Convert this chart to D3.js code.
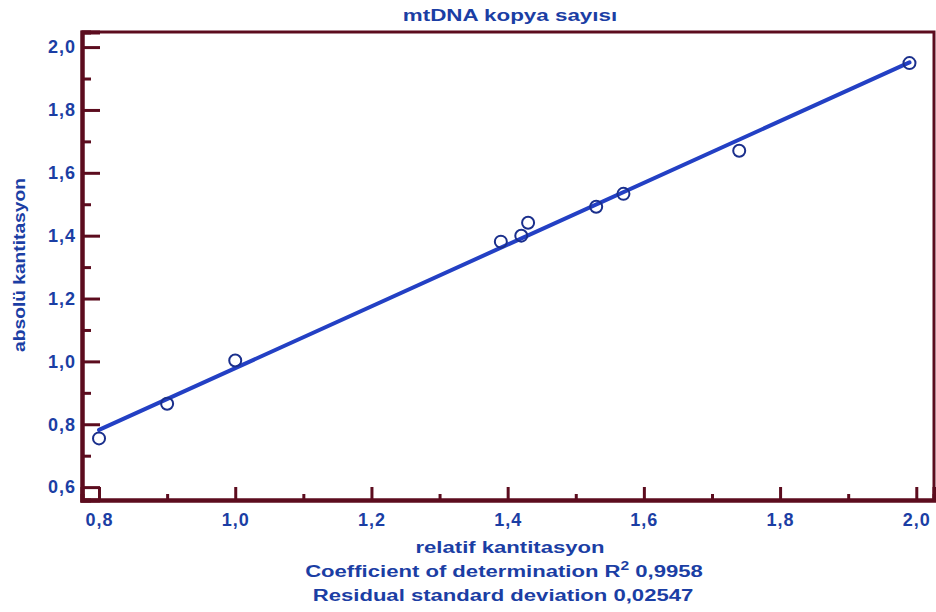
<!DOCTYPE html>
<html>
<head>
    <meta charset="utf-8">
    <title>mtDNA kopya sayısı</title>
    <script src="https://d3js.org/d3.v7.min.js"></script>
    <style>
        body { margin: 0; background: #fff; }
        text { font-family: "Liberation Sans", Arial, sans-serif; font-weight: bold; fill: #1b3ea4; }
    </style>
</head>
<body>
<div id="chart"></div>

<script type="text/javascript">
    // relatif kantitasyon (x) vs absolü kantitasyon (y)
    let relatif = [0.80, 0.90, 1.00, 1.39, 1.42, 1.43, 1.53, 1.57, 1.74, 1.99];
    let absolu  = [0.755, 0.865, 1.003, 1.381, 1.400, 1.441, 1.492, 1.533, 1.670, 1.949];

    let xMajor = [0.8, 1.0, 1.2, 1.4, 1.6, 1.8, 2.0];
    let xMinor = [0.9, 1.1, 1.3, 1.5, 1.7, 1.9];
    let yMajor = [0.6, 0.8, 1.0, 1.2, 1.4, 1.6, 1.8, 2.0];
    let yMinor = [0.7, 0.9, 1.1, 1.3, 1.5, 1.7, 1.9];

    let titleText = "mtDNA kopya sayısı";
    let xTitle = "relatif kantitasyon";
    let yTitle = "absolü kantitasyon";
    let r2Text = "0,9958";
    let sdText = "Residual standard deviation 0,02547";

    let dataset = relatif.map(function(d, i){ return {x: d, y: absolu[i]}; });

    let W = 936, H = 612;
    let margin = {top: 32, right: 2, bottom: 112, left: 82};
    let w = W - margin.left - margin.right;
    let h = H - margin.top - margin.bottom;

    let svg = d3.select("#chart")
        .append("svg")
            .attr("width", W)
            .attr("height", H);

    let g = svg.append("g")
        .attr("transform", "translate(" + margin.left + "," + margin.top + ")");

    let xScale = d3.scaleLinear().domain([0.775, 2.026]).range([0, w]);
    let yScale = d3.scaleLinear().domain([0.559, 2.048]).range([h, 0]);

    let fmt = function(d){ return d3.format(".1f")(d).replace(".", ","); };
    let axisColor = "#5c0c1e";

    // frame (top + right)
    g.append("path")
        .attr("d", "M0,0H" + w + "V" + h)
        .attr("fill", "none")
        .attr("stroke", axisColor)
        .attr("stroke-width", 3);

    // axes, ticks pointing inward
    let xAxis = d3.axisBottom(xScale).tickValues(xMajor).tickSize(-13).tickPadding(13).tickFormat(fmt);
    let xAxisMinor = d3.axisBottom(xScale).tickValues(xMinor).tickSize(-6).tickFormat("");
    let yAxis = d3.axisLeft(yScale).tickValues(yMajor).tickSize(-18).tickPadding(6).tickFormat(fmt);
    let yAxisMinor = d3.axisLeft(yScale).tickValues(yMinor).tickSize(-9).tickFormat("");

    [xAxis, xAxisMinor].forEach(function(a){
        g.append("g").attr("class", "axis").attr("transform", "translate(0," + h + ")").call(a);
    });
    [yAxis, yAxisMinor].forEach(function(a){
        g.append("g").attr("class", "axis").call(a);
    });

    g.selectAll(".axis .domain")
        .attr("stroke", axisColor)
        .attr("stroke-width", 4);
    g.selectAll(".axis .tick line")
        .attr("stroke", axisColor)
        .attr("stroke-width", 3);
    g.selectAll(".axis .tick text")
        .attr("font-size", "18px")
        .style("font-family", "Liberation Sans, Arial, sans-serif")
        .style("font-weight", "bold")
        .style("letter-spacing", "1px")
        .attr("fill", "#1b3ea4");

    // least squares regression line
    let mx = d3.mean(dataset, d => d.x), my = d3.mean(dataset, d => d.y);
    let b = d3.sum(dataset, d => (d.x - mx) * (d.y - my)) / d3.sum(dataset, d => (d.x - mx) * (d.x - mx));
    let a0 = my - b * mx;
    let xs = d3.extent(relatif);

    g.append("line")
        .attr("x1", xScale(xs[0]))
        .attr("y1", yScale(a0 + b * xs[0]))
        .attr("x2", xScale(xs[1]))
        .attr("y2", yScale(a0 + b * xs[1]))
        .attr("stroke", "#2340c4")
        .attr("stroke-width", 4)
        .attr("stroke-linecap", "round");

    g.selectAll("circle")
        .data(dataset)
        .enter()
        .append("circle")
        .attr("cx", d => xScale(d.x))
        .attr("cy", d => yScale(d.y))
        .attr("r", 6)
        .attr("fill", "none")
        .attr("stroke", "#1a2f8c")
        .attr("stroke-width", 2);

    // wide text, like the original export (stretched horizontally)
    function wideText(x, y, size, sx, rot) {
        return svg.append("text")
            .attr("transform", "translate(" + x + "," + y + ")" + (rot ? " rotate(-90)" : "") + " scale(" + sx + ",1)")
            .attr("text-anchor", "middle")
            .attr("font-size", size + "px");
    }

    wideText(510, 21, 16, 1.4).text(titleText);
    wideText(25, 265, 16, 1.2, true).text(yTitle);
    wideText(510, 553, 17, 1.3).text(xTitle);

    let r2 = wideText(504, 577, 17, 1.3);
    r2.append("tspan").text("Coefficient of determination R");
    r2.append("tspan").attr("dy", -7).attr("font-size", "12px").text("2");
    r2.append("tspan").attr("dy", 7).text(" " + r2Text);

    wideText(503, 601, 17, 1.3).text(sdText);
</script>
</body>
</html>
